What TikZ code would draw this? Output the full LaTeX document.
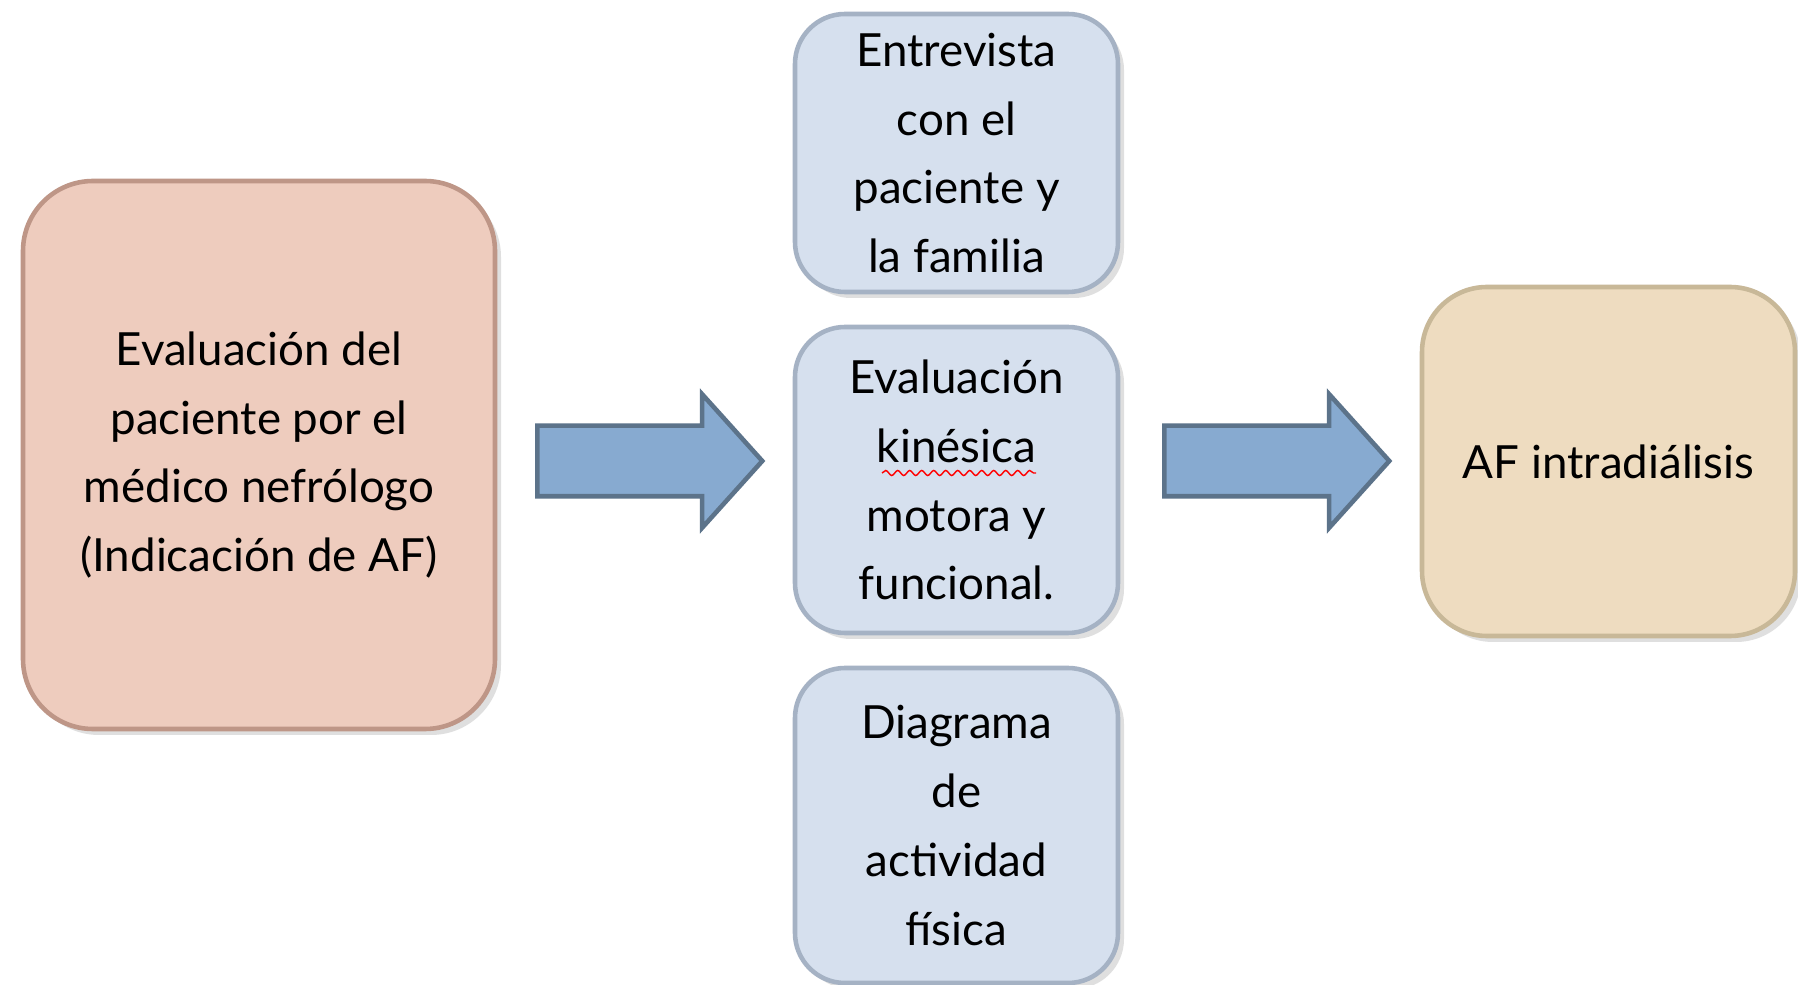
\documentclass[tikz,border=0pt]{standalone}
\usepackage{fontspec}
\setmainfont{Lato}
\usetikzlibrary{shapes.arrows,shadows,decorations.pathmorphing}
\definecolor{rosa}{RGB}{238,204,190}
\definecolor{rosaborde}{RGB}{190,150,135}
\definecolor{celeste}{RGB}{214,224,238}
\definecolor{celesteborde}{RGB}{165,178,196}
\definecolor{crema}{RGB}{238,220,192}
\definecolor{cremaborde}{RGB}{200,184,152}
\definecolor{azulflecha}{RGB}{135,170,208}
\definecolor{bordeflecha}{RGB}{92,115,138}
\tikzset{
	caja/.style={draw, line width=1.3pt, align=center, inner sep=0pt,
		font=\fontsize{13}{19.6}\selectfont,
		drop shadow={opacity=.25, shadow xshift=.6mm, shadow yshift=-.6mm}},
	cajaroja/.style={caja, fill=rosa, draw=rosaborde, rounded corners=7mm,
		minimum width=4.72cm, minimum height=5.48cm},
	cajaazul/.style={caja, fill=celeste, draw=celesteborde, rounded corners=5mm,
		minimum width=3.23cm},
	cajacrema/.style={caja, fill=crema, draw=cremaborde, rounded corners=6.5mm,
		minimum width=3.73cm, minimum height=3.49cm},
	flecha/.style={single arrow, draw=bordeflecha, fill=azulflecha, line width=1.3pt,
		inner xsep=0pt, inner ysep=.33cm, minimum height=2.25cm, minimum width=1.29cm,
		single arrow head extend=.315cm, single arrow tip angle=96, anchor=tail},
}
\begin{document}
\begin{tikzpicture}
	\fill[white] (0,0) rectangle (17.98,-9.85);
	\useasboundingbox (0,0) rectangle (17.98,-9.85);
	% evaluacion medica
	\node[cajaroja] at (2.59,-4.55) (medico) {Evaluación del\\paciente por el\\médico nefrólogo\\(Indicación de AF)};
	% columna central
	\node[cajaazul, minimum height=2.78cm] at (9.565,-1.53) (entrevista) {Entrevista\\con el\\paciente y\\la familia};
	\node[cajaazul, minimum height=3.06cm] at (9.565,-4.80) (kine) {Evaluación\\kinésica\\motora y\\funcional.};
	\node[cajaazul, minimum height=3.15cm] at (9.565,-8.255) (diagrama) {Diagrama\\de\\actividad\\física};
	% resultado
	\node[cajacrema] at (16.085,-4.615) (af) {AF intradiálisis};
	% flechas
	\node[flecha] at (5.35,-4.61) (f1) {};
	\node[flecha] at (11.62,-4.61) (f2) {};
	\draw[red, decorate, decoration={snake, amplitude=.25mm, segment length=1.2mm}] (8.82,-4.73) -- (10.36,-4.73);
\end{tikzpicture}
\end{document}
